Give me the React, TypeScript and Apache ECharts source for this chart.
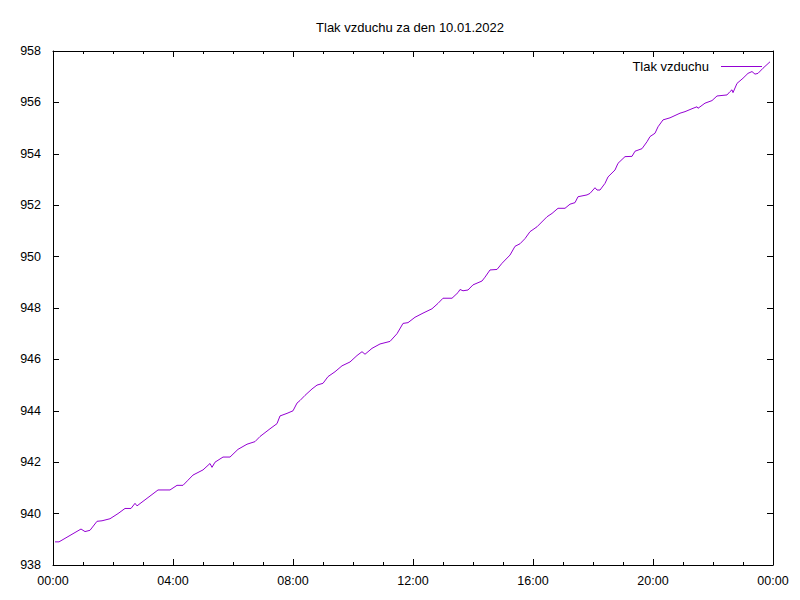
import React, { useEffect, useRef } from "react";
import * as echarts from "echarts";

const title = "Tlak vzduchu za den 10.01.2022";
const seriesName = "Tlak vzduchu";
// minutes from midnight
const times = [
  4, 12, 34, 56, 64, 74, 88, 98, 114, 130, 144, 156, 164, 168, 204, 210, 234, 248, 260, 270,
  280, 300, 314, 318, 324, 340, 354, 370, 388, 404, 414, 434, 448, 454, 468, 480, 488, 494,
  504, 518, 528, 540, 550, 564, 578, 594, 608, 618, 624, 638, 654, 674, 688, 700, 710, 724,
  740, 758, 770, 780, 798, 810, 814, 820, 830, 840, 858, 864, 874, 888, 898, 914, 924, 934,
  944, 954, 968, 988, 998, 1010, 1024, 1034, 1044, 1050, 1068, 1074, 1084, 1088, 1094, 1104,
  1110, 1124, 1130, 1144, 1158, 1164, 1178, 1188, 1194, 1204, 1210, 1220, 1234, 1254, 1264,
  1280, 1288, 1290, 1304, 1318, 1328, 1348, 1354, 1358, 1360, 1368, 1380, 1390, 1398, 1404,
  1410, 1420, 1434,
];
const values = [
  938.9, 938.9, 939.15, 939.4, 939.3, 939.35, 939.7, 939.72, 939.8, 940.0, 940.2, 940.2, 940.4,
  940.3, 940.83, 940.92, 940.92, 941.1, 941.1, 941.3, 941.5, 941.7, 941.95, 941.8, 942.0, 942.2,
  942.2, 942.5, 942.7, 942.8, 943.0, 943.3, 943.5, 943.8, 943.9, 944.0, 944.3, 944.4, 944.6,
  944.85, 945.0, 945.07, 945.33, 945.52, 945.75, 945.9, 946.15, 946.3, 946.2, 946.43, 946.6,
  946.7, 947.0, 947.4, 947.43, 947.64, 947.8, 947.97, 948.18, 948.38, 948.38, 948.6, 948.72,
  948.67, 948.7, 948.9, 949.05, 949.2, 949.48, 949.5, 949.74, 950.06, 950.4, 950.5, 950.7,
  950.97, 951.16, 951.55, 951.68, 951.88, 951.88, 952.04, 952.1, 952.33, 952.4, 952.46, 952.68,
  952.59, 952.59, 952.85, 953.1, 953.37, 953.63, 953.89, 953.9, 954.1, 954.2, 954.47, 954.67,
  954.8, 955.05, 955.32, 955.4, 955.58, 955.64, 955.77, 955.83, 955.77, 955.97, 956.07, 956.25,
  956.29, 956.42, 956.49, 956.38, 956.74, 956.94, 957.13, 957.2, 957.1, 957.13, 957.33, 957.58,
];
const yMin = 938;
const yMax = 958;
const yStep = 2;
const xMin = 0;
const xMax = 1440;
const xStep = 240;

const fmtTime = (v: number) => {
  const h = Math.floor(v / 60) % 24;
  const m = Math.round(v % 60);
  return String(h).padStart(2, "0") + ":" + String(m).padStart(2, "0");
};

export default function App() {
  const ref = useRef<HTMLDivElement>(null);
  useEffect(() => {
    if (!ref.current) return;
    const chart = echarts.init(ref.current, null, { renderer: "svg" });
    const font = "Liberation Sans, Arial, sans-serif";
    const axisLine = { show: true, onZero: false, lineStyle: { color: "#000", width: 1 } };
    const tickMajor = { show: true, inside: true, length: 6, lineStyle: { color: "#000" } };
    const minor = { show: true, splitNumber: 4, length: 3, lineStyle: { color: "#000" } };
    chart.setOption({
      animation: false,
      backgroundColor: "#fff",
      textStyle: { fontFamily: font },
      title: {
        text: title,
        left: 405,
        textAlign: "center",
        top: 16,
        textStyle: { fontFamily: font, fontSize: 13, fontWeight: "normal", color: "#000" },
      },
      legend: {
        data: [seriesName],
        right: 38,
        top: 60,
        padding: 0,
        align: "right",
        icon: "path://M0,0L0,1L0,0Z M7,0L48,0L48,1L7,1Z",
        itemWidth: 48,
        itemHeight: 1,
        textStyle: { fontFamily: font, fontSize: 13, color: "#000" },
      },
      grid: { left: 53, right: 27, top: 51, bottom: 35, containLabel: false },
      xAxis: [
        {
          type: "value",
          min: xMin,
          max: xMax,
          interval: xStep,
          position: "bottom",
          axisLine,
          axisTick: tickMajor,
          minorTick: minor,
          splitLine: { show: false },
          axisLabel: {
            formatter: fmtTime,
            color: "#000",
            fontSize: 12.5,
            fontFamily: font,
            margin: 9,
          },
        },
        {
          type: "value",
          min: xMin,
          max: xMax,
          interval: xStep,
          position: "top",
          axisLine,
          axisTick: tickMajor,
          minorTick: minor,
          splitLine: { show: false },
          axisLabel: { show: false },
        },
      ],
      yAxis: [
        {
          type: "value",
          min: yMin,
          max: yMax,
          interval: yStep,
          position: "left",
          axisLine,
          axisTick: tickMajor,
          splitLine: { show: false },
          axisLabel: { color: "#000", fontSize: 12.5, fontFamily: font, margin: 12 },
        },
        {
          type: "value",
          min: yMin,
          max: yMax,
          interval: yStep,
          position: "right",
          axisLine,
          axisTick: tickMajor,
          splitLine: { show: false },
          axisLabel: { show: false },
        },
      ],
      series: [
        {
          name: seriesName,
          type: "line",
          symbol: "none",
          data: times.map((t, i) => [t, values[i]]),
          lineStyle: { color: "#9400d3", width: 1 },
          itemStyle: { color: "#9400d3" },
        },
      ],
    });
    return () => chart.dispose();
  }, []);
  return (
    <div
      ref={ref}
      style={{ position: "fixed", left: 0, top: 0, width: 800, height: 600, background: "#fff" }}
    />
  );
}
